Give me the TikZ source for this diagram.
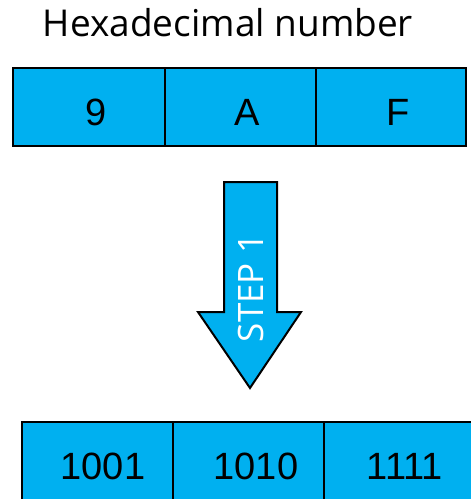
\documentclass[tikz,border=0pt]{standalone}
\usepackage{fontspec}
\setmainfont{Liberation Sans}
\newfontfamily\titlefont{Open Sans}
\definecolor{cellblue}{HTML}{00B0F0}
\tikzset{
  cell/.style={draw=black, line width=2pt, fill=cellblue, inner sep=0pt, minimum height=78pt},
  celltext/.style={font=\fontsize{38}{40}\selectfont, inner sep=0pt, anchor=center},
  arrowbody/.style={draw=black, line width=2pt, fill=cellblue, line join=miter},
}
\begin{document}
\begin{tikzpicture}[x=1pt,y=-1pt]
\useasboundingbox (0,0) rectangle (471,499);
\clip (0,0) rectangle (471,499);
\node[font=\titlefont\fontsize{37}{40}\selectfont, anchor=base, inner sep=0pt] (title) at (228,36) {Hexadecimal number};
% top row
\node[cell, minimum width=152pt] (t1) at (89,107) {};
\node[cell, minimum width=151pt] (t2) at (240.5,107) {};
\node[cell, minimum width=150pt] (t3) at (391,107) {};
\node[celltext] (t1l) at (96,112) {9};
\node[celltext] (t2l) at (247,112) {A};
\node[celltext] (t3l) at (398,112) {F};
% arrow
\draw[arrowbody] (224,182) -- (277,182) -- (277,312) -- (301,312) -- (250,388) -- (198,312) -- (224,312) -- cycle;
\node[font=\titlefont\fontsize{35}{36}\selectfont, text=white, rotate=90, inner sep=0pt] (step) at (251,288) {STEP 1};
% bottom row
\node[cell, minimum width=151pt] (b1) at (97.5,461) {};
\node[cell, minimum width=151pt] (b2) at (248.5,461) {};
\node[cell, minimum width=151pt] (b3) at (399.5,461) {};
\node[celltext] (b1l) at (103,466) {1001};
\node[celltext] (b2l) at (256,466) {1010};
\node[celltext] (b3l) at (405,466) {1111};
\end{tikzpicture}
\end{document}
